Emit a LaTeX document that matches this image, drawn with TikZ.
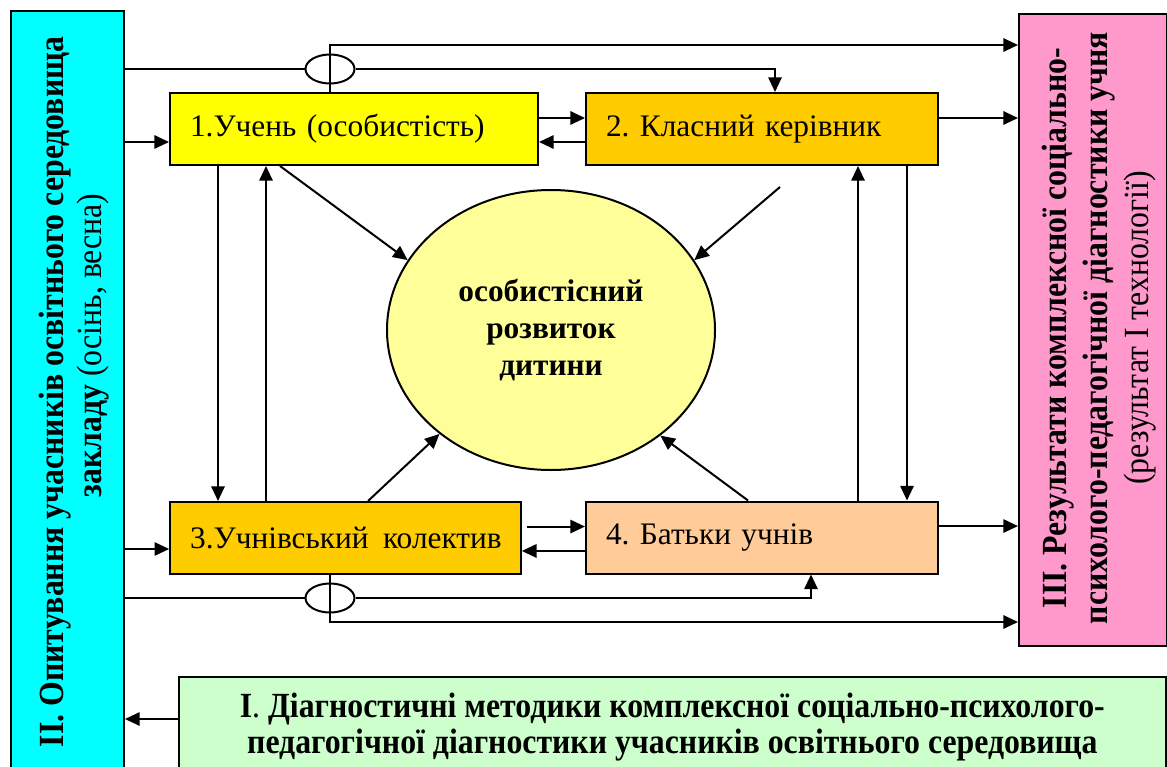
\documentclass[tikz,border=0pt]{standalone}
\usepackage{fontspec}
\setmainfont{Liberation Serif}
\newfontfamily\narrowfont[FakeStretch=0.9]{Liberation Serif}
\usetikzlibrary{arrows.meta,shapes.geometric,positioning}
\definecolor{surveycyan}{HTML}{00FFFF}
\definecolor{resultpink}{HTML}{FF99CC}
\definecolor{methodgreen}{HTML}{CCFFCC}
\definecolor{pupilyellow}{HTML}{FFFF00}
\definecolor{unitorange}{HTML}{FFCC00}
\definecolor{parentpeach}{HTML}{FFCC99}
\definecolor{growthyellow}{HTML}{FFFF99}
\newcommand{\boxfont}{\frenchspacing\fontsize{23.5}{28}\selectfont}
\newcommand{\spacedfont}[1]{\fontsize{23.5}{#1}\selectfont}
\newcommand{\panelfont}[1]{\narrowfont\fontsize{26.5}{#1}\selectfont}

\begin{document}
\begin{tikzpicture}[x=0.75pt, y=-0.75pt, line width=1.5pt,
      -{Triangle[length=11pt,width=10pt]},
      every node/.append style={font=\boxfont}]
    \tikzstyle{unit} = [draw, rectangle, minimum height=54pt, inner xsep=15pt, align=left]
    \tikzstyle{panel} = [draw, rectangle, inner sep=0pt, anchor=north west]
    \tikzstyle{bridge} = [draw, ellipse, fill=white, minimum width=36.75pt, minimum height=21.75pt, inner sep=0pt]
    \tikzstyle{caption} = [rotate=90, align=center, inner sep=0pt]
    \useasboundingbox (0,0) rectangle (1167,767);

    \node (survey) [panel, fill=surveycyan, minimum width=84.75pt, minimum height=580pt] at (10,10) {};
    \node [caption, font=\panelfont{28.5pt}] at (74,392)
      {\textbf{ІІ. Опитування учасників освітнього середовища}\\ \hspace*{70pt}\textbf{закладу} (осінь, весна)};
    \node (results) [panel, fill=resultpink, minimum width=111pt, minimum height=474pt] at (1018,13) {};
    \node [caption, font=\panelfont{30.75pt}] at (1099,328)
      {\textbf{ІІІ. Результати комплексної соціально-}\\ \textbf{психолого-педагогічної діагностики учня}\\ (результат І технології)};
    \node (methods) [panel, fill=methodgreen, minimum width=740pt, minimum height=75pt, align=center,
      font=\panelfont{27pt}\bfseries] at (178,676)
      {І{\mdseries.} Діагностичні методики комплексної соціально-психолого-\\педагогічної діагностики учасників освітнього середовища};

    \node (pupil) [unit, fill=pupilyellow, text width=246pt] at (354,129) {\mbox{1.Учень (особистість)}};
    \node (teacher) [unit, fill=unitorange, text width=234pt] at (762,129) {\mbox{2. Класний керівник}};
    \node (team) [unit, fill=unitorange, text width=233pt] at (345.5,538) {\mbox{3.Учнівський\ \hspace{3pt}колектив}};
    \node (parents) [unit, fill=parentpeach, text width=234pt] at (762,537.5) {\mbox{4. Батьки учнів}};
    \node (growth) [draw, ellipse, fill=growthyellow, minimum width=246pt, minimum height=210pt, align=center,
      font=\spacedfont{28pt}\bfseries] at (551,330) {особистісний\\розвиток\\дитини};

    \node (bridgeT) [bridge] at (330,69) {};
    \node (bridgeB) [bridge] at (330,598) {};
    \coordinate (upper) at (330,45);
    \coordinate (lower) at (330,622);
    \coordinate (loose) at (780,187);

    % upper row
    \draw ([yshift=-9.75pt]pupil.west) coordinate (inA) (survey.east |- inA) -- (inA);
    \draw ([yshift=8.25pt]pupil.east) coordinate (a1) -- (a1 -| teacher.west);
    \draw ([yshift=-9.75pt]teacher.west) coordinate (a2) -- (a2 -| pupil.east);
    \draw ([yshift=8.25pt]teacher.east) coordinate (outA) -- (outA -| results.west);
    \draw[-] (survey.east |- bridgeT) -- (bridgeT.west);
    \draw (bridgeT.east) -| ([xshift=9.75pt]teacher.north);
    \draw (bridgeT |- pupil.north) |- (upper -| results.west);

    % verticals
    \draw ([xshift=-102pt]pupil.south) coordinate (d1) -- (d1 |- team.north);
    \draw ([xshift=-66pt]pupil.south) coordinate (u1) (u1 |- team.north) -- (u1);
    \draw ([xshift=108.75pt]teacher.south) coordinate (d2) -- (d2 |- parents.north);
    \draw ([xshift=72pt]teacher.south) coordinate (u2) (u2 |- parents.north) -- (u2);

    % towards the centre
    \draw ([xshift=-55.5pt]pupil.south) -- (growth.154);
    \draw (loose) -- (growth.26);
    \draw ([xshift=16.9pt]team.north) -- (growth.223);
    \draw ([xshift=-10.5pt]parents.north) -- (growth.316);

    % lower row
    \draw ([yshift=-8.25pt]team.west) coordinate (inB) (survey.east |- inB) -- (inB);
    \draw ([xshift=3.75pt,yshift=8.6pt]team.east) coordinate (b1) -- (b1 -| parents.west);
    \draw ([yshift=-10.1pt]parents.west) coordinate (b2) -- (b2 -| team.east);
    \draw ([yshift=8.6pt]parents.east) coordinate (outB) -- (outB -| results.west);
    \draw[-] (survey.east |- bridgeB) -- (bridgeB.west);
    \draw (bridgeB.east) -| ([xshift=36.75pt]parents.south);
    \draw (bridgeB |- team.south) |- (lower -| results.west);

    \draw ([yshift=6pt]methods.west) coordinate (m1) -- (m1 -| survey.east);
\end{tikzpicture}
\end{document}
